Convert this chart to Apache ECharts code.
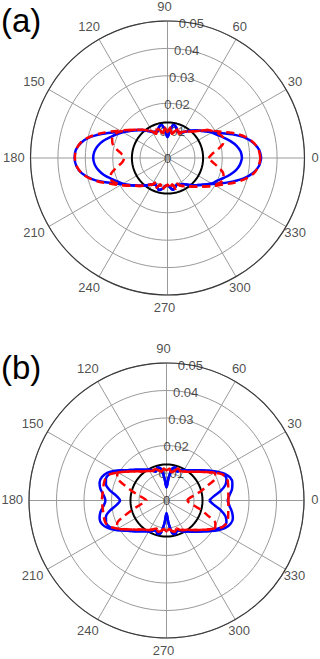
<!DOCTYPE html>
<html>
	<head>
		<meta charset="utf-8">
		<title></title>
		<style>
			html,body{margin:0;padding:0;background:#fff;}
			#main{width:320px;height:659px;}
		</style>
	</head>
	<body>
		<div id="main"></div>
		<script src="https://cdn.jsdelivr.net/npm/echarts@6.0.0/dist/echarts.min.js"></script>
		<script>
			// angle grid of the curves, 0..355 step 5 (deg)
			var angles = [];
			for (var a = 0; a < 360; a += 5) angles.push(a);

			// tick labels
			var angleTicks = [0, 30, 60, 90, 120, 150, 180, 210, 240, 270, 300, 330];
			var radiusTicks = [0, 0.01, 0.02, 0.03, 0.04, 0.05];
			var radiusTickLabels = ['0', '0.01', '0.02', '0.03', '0.04', '0.05'];
			var panelLabels = ['(a)', '(b)'];

			// reference circle radius, panel a / b
			var circleR = [0.013, 0.0131];

			// panel (a)
			var aBlueOuter = [
				0.0342,0.0336,0.0318,0.0290,0.0252,0.0215,0.0190,0.0170,0.0155,0.0142,0.0130,0.0118,
				0.0108,0.0103,0.0106,0.0118,0.0122,0.0098,0.0077,0.0098,0.0122,0.0118,0.0104,0.0106,
				0.0110,0.0120,0.0132,0.0144,0.0157,0.0172,0.0192,0.0220,0.0256,0.0293,0.0320,0.0336,
				0.0339,0.0334,0.0318,0.0290,0.0254,0.0218,0.0192,0.0172,0.0156,0.0143,0.0131,0.0120,
				0.0112,0.0106,0.0112,0.0121,0.0115,0.0104,0.0100,0.0108,0.0118,0.0110,0.0103,0.0108,
				0.0110,0.0118,0.0129,0.0141,0.0153,0.0168,0.0190,0.0218,0.0252,0.0288,0.0317,0.0335];
			var aBlueInner = [
				0.0272,0.0268,0.0256,0.0238,0.0218,0.0200,0.0186,0.0170,0.0155,0.0142,0.0130,0.0118,
				0.0108,0.0103,0.0106,0.0118,0.0122,0.0098,0.0077,0.0098,0.0122,0.0118,0.0104,0.0106,
				0.0110,0.0120,0.0132,0.0144,0.0157,0.0172,0.0188,0.0205,0.0222,0.0242,0.0258,0.0268,
				0.0271,0.0267,0.0256,0.0240,0.0220,0.0202,0.0188,0.0172,0.0156,0.0143,0.0131,0.0120,
				0.0112,0.0106,0.0112,0.0121,0.0115,0.0104,0.0100,0.0108,0.0118,0.0110,0.0103,0.0108,
				0.0110,0.0118,0.0129,0.0141,0.0153,0.0168,0.0186,0.0198,0.0216,0.0236,0.0254,0.0266];
			var aRedOuter = [
				0.0339,0.0334,0.0320,0.0296,0.0262,0.0225,0.0198,0.0178,0.0155,0.0138,0.0126,0.0118,
				0.0110,0.0098,0.0112,0.0100,0.0090,0.0112,0.0095,0.0112,0.0092,0.0104,0.0114,0.0098,
				0.0112,0.0122,0.0134,0.0146,0.0160,0.0178,0.0200,0.0228,0.0262,0.0296,0.0322,0.0335,
				0.0338,0.0333,0.0318,0.0292,0.0258,0.0224,0.0198,0.0176,0.0158,0.0144,0.0132,0.0120,
				0.0112,0.0098,0.0115,0.0100,0.0118,0.0105,0.0098,0.0112,0.0098,0.0116,0.0100,0.0112,
				0.0118,0.0126,0.0136,0.0148,0.0162,0.0180,0.0202,0.0228,0.0262,0.0294,0.0320,0.0334];
			var aRedInner = [
				0.0150,0.0163,0.0188,0.0210,0.0216,0.0208,0.0194,0.0178,0.0155,0.0138,0.0126,0.0118,
				0.0110,0.0098,0.0112,0.0100,0.0090,0.0112,0.0095,0.0112,0.0092,0.0104,0.0114,0.0098,
				0.0112,0.0122,0.0134,0.0146,0.0160,0.0176,0.0195,0.0210,0.0215,0.0208,0.0190,0.0168,
				0.0158,0.0165,0.0186,0.0212,0.0222,0.0212,0.0196,0.0176,0.0158,0.0144,0.0132,0.0120,
				0.0112,0.0098,0.0115,0.0100,0.0118,0.0105,0.0098,0.0112,0.0098,0.0116,0.0100,0.0112,
				0.0118,0.0126,0.0136,0.0148,0.0162,0.0180,0.0198,0.0212,0.0218,0.0210,0.0188,0.0164];

			// panel (b)
			var bBlueOuter = [
				0.0222,0.0230,0.0242,0.0248,0.0246,0.0232,0.0210,0.0188,0.0170,0.0156,0.0144,0.0134,
				0.0128,0.0120,0.0112,0.0124,0.0118,0.0080,0.0048,0.0080,0.0118,0.0124,0.0112,0.0120,
				0.0130,0.0136,0.0146,0.0158,0.0172,0.0192,0.0216,0.0238,0.0250,0.0252,0.0244,0.0230,
				0.0222,0.0230,0.0244,0.0252,0.0250,0.0236,0.0214,0.0190,0.0172,0.0158,0.0146,0.0136,
				0.0130,0.0122,0.0114,0.0126,0.0120,0.0082,0.0046,0.0082,0.0120,0.0126,0.0114,0.0122,
				0.0130,0.0138,0.0148,0.0160,0.0174,0.0194,0.0216,0.0236,0.0248,0.0250,0.0242,0.0230];
			var bBlueInner = [
				0.0155,0.0172,0.0200,0.0222,0.0232,0.0226,0.0208,0.0188,0.0170,0.0156,0.0144,0.0134,
				0.0128,0.0120,0.0112,0.0124,0.0118,0.0080,0.0048,0.0080,0.0118,0.0124,0.0112,0.0120,
				0.0130,0.0136,0.0146,0.0158,0.0172,0.0192,0.0212,0.0228,0.0234,0.0228,0.0208,0.0182,
				0.0169,0.0182,0.0208,0.0228,0.0234,0.0228,0.0212,0.0190,0.0172,0.0158,0.0146,0.0136,
				0.0130,0.0122,0.0114,0.0126,0.0120,0.0082,0.0046,0.0082,0.0120,0.0126,0.0114,0.0122,
				0.0130,0.0138,0.0148,0.0160,0.0174,0.0194,0.0208,0.0226,0.0232,0.0222,0.0200,0.0172];
			var bRedOuter = [
				0.0225,0.0226,0.0228,0.0232,0.0234,0.0224,0.0202,0.0180,0.0162,0.0148,0.0136,0.0128,
				0.0122,0.0118,0.0124,0.0112,0.0104,0.0116,0.0110,0.0116,0.0106,0.0114,0.0122,0.0118,
				0.0124,0.0130,0.0138,0.0150,0.0164,0.0182,0.0204,0.0226,0.0236,0.0236,0.0234,0.0234,
				0.0235,0.0234,0.0234,0.0236,0.0236,0.0226,0.0204,0.0182,0.0164,0.0150,0.0138,0.0130,
				0.0124,0.0116,0.0108,0.0118,0.0112,0.0104,0.0112,0.0104,0.0112,0.0118,0.0108,0.0118,
				0.0124,0.0130,0.0140,0.0152,0.0166,0.0184,0.0204,0.0226,0.0234,0.0232,0.0228,0.0226];
			var bRedInner = [
				0.0075,0.0082,0.0100,0.0128,0.0160,0.0196,0.0202,0.0180,0.0162,0.0148,0.0136,0.0128,
				0.0122,0.0118,0.0124,0.0112,0.0104,0.0116,0.0110,0.0116,0.0106,0.0114,0.0122,0.0118,
				0.0124,0.0130,0.0138,0.0150,0.0164,0.0182,0.0204,0.0198,0.0162,0.0128,0.0100,0.0082,
				0.0073,0.0082,0.0100,0.0128,0.0162,0.0198,0.0204,0.0182,0.0164,0.0150,0.0138,0.0130,
				0.0124,0.0116,0.0108,0.0118,0.0112,0.0104,0.0112,0.0104,0.0112,0.0118,0.0108,0.0118,
				0.0124,0.0130,0.0140,0.0152,0.0166,0.0184,0.0204,0.0196,0.0160,0.0128,0.0100,0.0082];

			var panels = [
				{center: [167.5, 158], radius: 137, curves: [aBlueOuter, aBlueInner, aRedOuter, aRedInner]},
				{center: [166.5, 500.5], radius: 137.5, curves: [bBlueOuter, bBlueInner, bRedOuter, bRedInner]}
			];

			var font = 'Liberation Sans';
			var gridGray = '#9a9a9a';
			var rimLabelR = 0.055;

			// [radius, angle] pairs, closed loop
			function loop(vals) {
				var pts = vals.map(function (v, i) { return [v, angles[i]]; });
				pts.push([vals[0], 360]);
				return pts;
			}

			var polar = [], angleAxis = [], radiusAxis = [], series = [], graphic = [];

			panels.forEach(function (p, k) {
				polar.push({center: p.center, radius: p.radius});
				angleAxis.push({
					polarIndex: k, type: 'value', min: 0, max: 360, interval: 30,
					startAngle: 0, clockwise: false,
					axisLine: {lineStyle: {color: '#3c3c3c', width: 1.2}},
					axisTick: {show: false},
					axisLabel: {show: false},
					splitLine: {lineStyle: {color: gridGray, width: 1}}
				});
				radiusAxis.push({
					polarIndex: k, type: 'value', min: 0, max: 0.05, interval: 0.01,
					axisLine: {show: false}, axisTick: {show: false}, axisLabel: {show: false},
					splitLine: {lineStyle: {color: gridGray, width: 1}}
				});

				// radius tick labels along the 80 deg ray
				series.push({
					type: 'scatter', coordinateSystem: 'polar', polarIndex: k, z: 1, silent: true,
					symbolSize: 1, itemStyle: {color: 'rgba(0,0,0,0)'},
					data: radiusTicks.map(function (r) { return [r, 80]; }),
					label: {
						show: true, position: 'inside', color: '#222', fontSize: 13, fontFamily: font,
						formatter: function (q) { return radiusTickLabels[q.dataIndex]; }
					}
				});
				// angle labels outside the rim
				series.push({
					type: 'scatter', coordinateSystem: 'polar', polarIndex: k, z: 1, silent: true, clip: false,
					symbolSize: 1, itemStyle: {color: 'rgba(0,0,0,0)'},
					data: angleTicks.map(function (t) { return [rimLabelR, t]; }),
					label: {
						show: true, position: 'inside', offset: [-3, -1], color: '#222', fontSize: 13, fontFamily: font,
						formatter: function (q) { return String(angleTicks[q.dataIndex]); }
					}
				});

				// black reference circle
				series.push({
					type: 'line', coordinateSystem: 'polar', polarIndex: k, z: 3, silent: true,
					showSymbol: false, symbol: 'none',
					data: loop(angles.map(function () { return circleR[k]; })),
					lineStyle: {color: '#000', width: 2}
				});
				// blue solid, red dashed
				p.curves.forEach(function (vals, j) {
					var red = j >= 2;
					series.push({
						type: 'line', coordinateSystem: 'polar', polarIndex: k, z: red ? 5 : 4, silent: true,
						showSymbol: false, symbol: 'none', smooth: 0.3,
						data: loop(vals),
						lineStyle: red ? {color: '#ff0000', width: 2.5, type: [8, 5]} : {color: '#0000ff', width: 2.5}
					});
				});

				graphic.push({
					type: 'text', x: 1, y: k === 0 ? 20 : 367,
					style: {text: panelLabels[k], fill: '#000', font: '33px "Liberation Sans"', verticalAlign: 'middle', align: 'left'}
				});
			});

			var mychart = echarts.init(document.getElementById('main'), null, {renderer: 'svg'});
			mychart.setOption({
				animation: false,
				polar: polar,
				angleAxis: angleAxis,
				radiusAxis: radiusAxis,
				series: series,
				graphic: graphic
			});
		</script>
	</body>
</html>
